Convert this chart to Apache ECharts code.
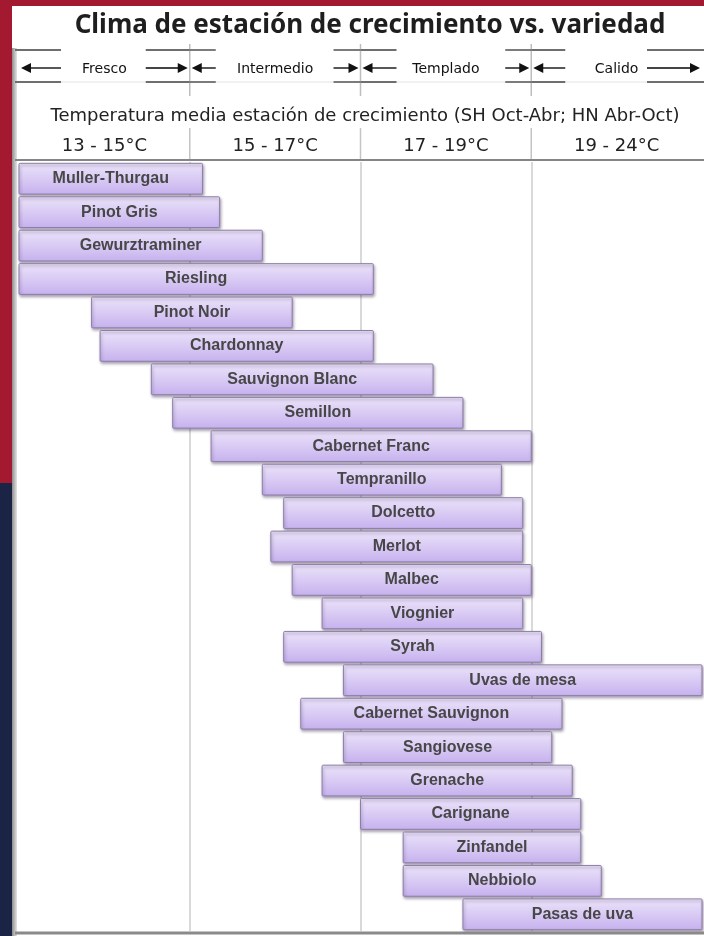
<!DOCTYPE html>
<html lang="es">
<head>
    <meta charset="UTF-8">
    <title>Clima de estación de crecimiento vs. variedad</title>
    <script src="https://cdn.jsdelivr.net/npm/echarts@6/dist/echarts.min.js"></script>
    <style>
        html, body {
            margin: 0;
            padding: 0;
        }
        #main {
            width: 704px;
            height: 936px;
        }
    </style>
</head>
<body>
<div id="main"></div>
<script>
    // variedades, de arriba abajo
    var varieties = ['Muller-Thurgau', 'Pinot Gris', 'Gewurztraminer', 'Riesling', 'Pinot Noir', 'Chardonnay',
        'Sauvignon Blanc', 'Semillon', 'Cabernet Franc', 'Tempranillo', 'Dolcetto', 'Merlot', 'Malbec',
        'Viognier', 'Syrah', 'Uvas de mesa', 'Cabernet Sauvignon', 'Sangiovese', 'Grenache', 'Carignane',
        'Zinfandel', 'Nebbiolo', 'Pasas de uva'];
    // rango de temperatura media (°C)
    var tempFrom = [13.0, 13.0, 13.0, 13.0, 13.85, 13.95, 14.55, 14.8, 15.25, 15.85, 16.1, 15.95, 16.2,
        16.55, 16.1, 16.8, 16.3, 16.8, 16.55, 17.0, 17.5, 17.5, 18.2];
    var tempTo = [15.15, 15.35, 15.85, 17.15, 16.2, 17.15, 17.85, 18.2, 19.0, 18.65, 18.9, 18.9, 19.0,
        18.9, 19.3, 24.0, 19.9, 19.6, 20.2, 20.45, 20.45, 21.05, 24.0];
    // columnas
    var binEdges = [13, 15, 17, 19, 24];
    var rangeLabels = ['13 - 15°C', '15 - 17°C', '17 - 19°C', '19 - 24°C'];
    var zoneLabels = ['Fresco', 'Intermedio', 'Templado', 'Calido'];

    // cada columna ocupa el mismo ancho aunque el rango no sea igual
    function toUnits(t) {
        for (var i = 0; i < binEdges.length - 1; i++) {
            if (t <= binEdges[i + 1]) {
                return i + (t - binEdges[i]) / (binEdges[i + 1] - binEdges[i]);
            }
        }
        return binEdges.length - 1;
    }

    var barData = [];
    for (var i = 0; i < varieties.length; i++) {
        barData.push([toUnits(tempFrom[i]), toUnits(tempTo[i]), i]);
    }

    var myChart = echarts.init(document.getElementById('main'));

    var barFill = new echarts.graphic.LinearGradient(0, 0, 0, 1, [
        {offset: 0, color: '#ece4fa'},
        {offset: 1, color: '#c6b1ee'}
    ]);

    var option = {
        backgroundColor: '#a3192f',
        animation: false,
        title: [{
            text: 'Clima de estación de crecimiento vs. variedad',
            left: 365,
            top: 8,
            textAlign: 'center',
            textStyle: {
                fontFamily: 'Noto Sans',
                fontWeight: 'bold',
                fontSize: 26,
                color: '#1e1e1e'
            }
        }, {
            text: 'Temperatura media estación de crecimiento (SH Oct-Abr; HN Abr-Oct)',
            left: 360,
            top: 102,
            textAlign: 'center',
            textStyle: {
                fontFamily: 'DejaVu Sans',
                fontWeight: 'normal',
                fontSize: 18,
                color: '#222'
            }
        }],
        grid: {
            left: 19,
            right: 2,
            top: 162,
            bottom: 5
        },
        xAxis: [{
            type: 'value',
            min: 0,
            max: 4,
            interval: 1,
            axisLabel: {show: false},
            axisLine: {show: false},
            axisTick: {show: false},
            splitLine: {
                show: true,
                lineStyle: {
                    color: ['transparent', '#cdcdcd', '#cdcdcd', '#cdcdcd', 'transparent'],
                    width: 1.5
                }
            }
        }, {
            type: 'category',
            data: rangeLabels,
            position: 'top',
            axisLine: {show: false},
            axisTick: {show: false},
            axisLabel: {
                margin: 7,
                fontFamily: 'DejaVu Sans',
                fontSize: 18,
                color: '#222'
            }
        }, {
            type: 'category',
            data: zoneLabels,
            position: 'top',
            offset: 79,
            axisLine: {show: false},
            axisTick: {show: false},
            axisLabel: {
                margin: 7,
                fontFamily: 'DejaVu Sans',
                fontSize: 14,
                color: '#111'
            }
        }],
        yAxis: {
            type: 'category',
            data: varieties,
            inverse: true,
            show: false
        },
        series: [{
            type: 'custom',
            xAxisIndex: 0,
            yAxisIndex: 0,
            encode: {x: [0, 1], y: 2},
            data: barData,
            renderItem: function (params, api) {
                var row = api.value(2);
                var p0 = api.coord([api.value(0), row]);
                var p1 = api.coord([api.value(1), row]);
                var h = api.size([0, 1])[1] * 0.92;
                return {
                    type: 'rect',
                    shape: {x: p0[0], y: p0[1] - h / 2, width: p1[0] - p0[0], height: h, r: 1},
                    style: {
                        fill: barFill,
                        stroke: '#8c7fa6',
                        lineWidth: 1,
                        shadowColor: 'rgba(50, 30, 70, 0.4)',
                        shadowBlur: 3,
                        shadowOffsetX: 1,
                        shadowOffsetY: 2
                    },
                    textContent: {
                        style: {
                            text: varieties[params.dataIndex],
                            fill: '#474747',
                            font: 'bold 16px "Liberation Sans", Arial, sans-serif'
                        }
                    },
                    textConfig: {position: 'inside'}
                };
            }
        }]
    };

    myChart.setOption(option);

    // marco, flechas y líneas de la cabecera
    var px = [];
    for (var k = 0; k <= 4; k++) {
        px.push(myChart.convertToPixel({xAxisIndex: 0}, k));
    }
    var leftLen = [42, 26, 36, 34];
    var rightLen = [44, 27, 26, 55];
    var arrowY = 68, topY = 50, botY = 82;

    var g = [
        {type: 'rect', z: -100, shape: {x: 0, y: 483, width: 13, height: 453}, style: {fill: '#1b2445'}},
        {type: 'rect', z: -99, shape: {x: 12, y: 6, width: 692, height: 930}, style: {fill: '#ffffff'}},
        {
            type: 'rect', z: -98, shape: {x: 12, y: 48, width: 5, height: 888},
            style: {
                fill: new echarts.graphic.LinearGradient(0, 0, 1, 0, [
                    {offset: 0, color: '#8e8e8e'},
                    {offset: 1, color: '#e4e4e4'}
                ])
            }
        },
        {type: 'line', z: -90, shape: {x1: 15, y1: botY, x2: 704, y2: botY}, style: {stroke: '#e2e2e2', lineWidth: 1}},
        {type: 'line', z: 5, shape: {x1: 15, y1: 160, x2: 704, y2: 160}, style: {stroke: '#858585', lineWidth: 2}},
        {type: 'line', z: 5, shape: {x1: 15, y1: 933, x2: 704, y2: 933}, style: {stroke: '#8a8a8a', lineWidth: 3}}
    ];

    for (var b = 1; b <= 3; b++) {
        g.push({type: 'line', z: -50, shape: {x1: px[b], y1: 44, x2: px[b], y2: 96}, style: {stroke: '#bdbdbd', lineWidth: 1.5}});
        g.push({type: 'line', z: -50, shape: {x1: px[b], y1: 128, x2: px[b], y2: 160}, style: {stroke: '#c4c4c4', lineWidth: 1.5}});
    }

    for (var z = 0; z < 4; z++) {
        var L = px[z], R = px[z + 1];
        var segL0 = z === 0 ? 15 : L;
        var segR1 = z === 3 ? 704 : R;
        // líneas arriba y abajo de cada flecha
        [topY, botY].forEach(function (yy) {
            g.push({type: 'line', shape: {x1: segL0, y1: yy, x2: L + leftLen[z], y2: yy}, style: {stroke: '#6e6e6e', lineWidth: 1.8}});
            g.push({type: 'line', shape: {x1: R - rightLen[z], y1: yy, x2: segR1, y2: yy}, style: {stroke: '#6e6e6e', lineWidth: 1.8}});
        });
        // flecha izquierda
        g.push({type: 'line', shape: {x1: L + 10, y1: arrowY, x2: L + leftLen[z], y2: arrowY}, style: {stroke: '#444', lineWidth: 1.8}});
        g.push({type: 'polygon', shape: {points: [[L + 2, arrowY], [L + 12, arrowY - 5], [L + 12, arrowY + 5]]}, style: {fill: '#111'}});
        // flecha derecha
        g.push({type: 'line', shape: {x1: R - rightLen[z], y1: arrowY, x2: R - 10, y2: arrowY}, style: {stroke: '#444', lineWidth: 1.8}});
        g.push({type: 'polygon', shape: {points: [[R - 2, arrowY], [R - 12, arrowY - 5], [R - 12, arrowY + 5]]}, style: {fill: '#111'}});
    }

    myChart.setOption({graphic: {elements: g}});
</script>
</body>
</html>
